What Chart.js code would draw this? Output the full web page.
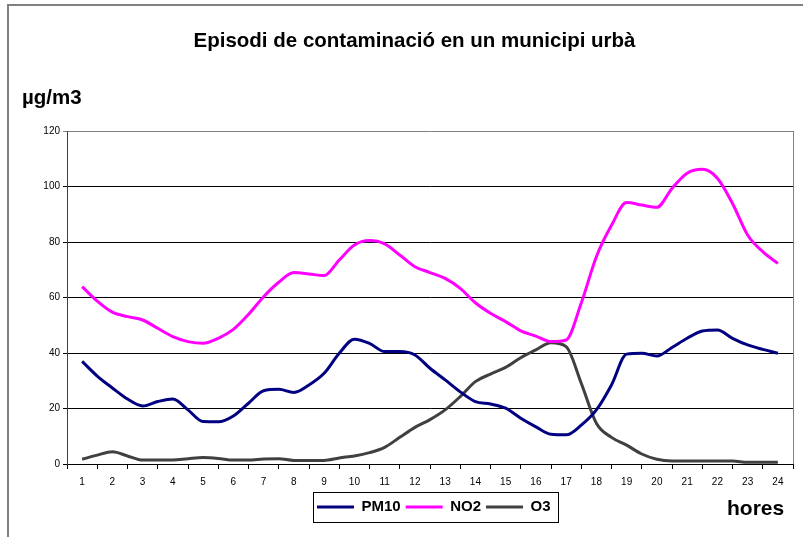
<!DOCTYPE html>
<html>
<head>
<meta charset="utf-8">
<script src="https://cdn.jsdelivr.net/npm/chart.js@4/dist/chart.umd.min.js"></script>
<style>
  html, body { margin: 0; padding: 0; background: #fff; }
  canvas { display: block; }
</style>
</head>
<body>
<canvas id="chart" width="803" height="537"></canvas>
<script>
// values, every half hour
const hores = [1, 1.5, 2, 2.5, 3, 3.5, 4, 4.5, 5, 5.5, 6, 6.5, 7, 7.5, 8, 8.5, 9, 9.5, 10, 10.5, 11, 11.5, 12, 12.5,
  13, 13.5, 14, 14.5, 15, 15.5, 16, 16.5, 17, 17.5, 18, 18.5, 19, 19.5, 20, 20.5, 21, 21.5, 22, 22.5, 23, 23.5, 24];
const pm10 = [37, 31.7, 27.4, 23.4, 20.9, 22.5, 23.4, 19.5, 15.3, 15.2, 17.3, 21.9, 26.4, 26.9, 25.8, 28.5, 32.7, 39.9, 45, 43.5, 40.5, 40.5, 39.3, 34.5,
  30.3, 26, 22.5, 21.6, 20.1, 16.5, 13.4, 10.7, 10.5, 14, 19.5, 28.5, 39.6, 39.9, 38.9, 42, 45.3, 47.9, 48.3, 45.3, 42.9, 41.3, 39.9];
const no2 = [63.9, 58.7, 54.7, 53.1, 51.9, 48.9, 45.9, 44.1, 43.5, 45.3, 48.5, 53.9, 60.3, 65.5, 69, 68.5, 67.9, 73.5, 78.9, 80.5, 79.3, 75.3, 71.1, 69,
  66.9, 63.3, 58.1, 54.3, 51.3, 48, 46.1, 44.1, 44.7, 58, 74.7, 86, 94.2, 93.3, 92.5, 99.3, 104.8, 106.2, 103, 93.9, 82.5, 76.5, 72.3];
const o3 = [1.7, 3.2, 4.4, 2.9, 1.4, 1.4, 1.4, 1.9, 2.3, 2, 1.4, 1.4, 1.8, 1.9, 1.3, 1.3, 1.3, 2.2, 2.9, 4.1, 6, 9.6, 13.2, 16,
  19.5, 24.3, 29.7, 32.4, 34.8, 38.3, 41.1, 43.7, 42.3, 29.1, 14.7, 9.6, 6.8, 3.6, 1.7, 1.1, 1.1, 1.1, 1.1, 1.1, 0.6, 0.6, 0.6];
const horesLabels = ['1','2','3','4','5','6','7','8','9','10','11','12','13','14','15','16','17','18','19','20','21','22','23','24'];
const yTicks = [0, 20, 40, 60, 80, 100, 120];

const FONT = '"Liberation Sans", Arial, sans-serif';

function pts(vals){
  return vals.map((v, i) => ({ x: hores[i], y: v }));
}

function serie(label, vals, color){
  return {
    label: label, data: pts(vals), borderColor: color, backgroundColor: color,
    borderWidth: 3, pointRadius: 0, cubicInterpolationMode: 'monotone', xAxisID: 'x'
  };
}

// frame, axis captions, legend box
const extras = {
  id: 'extras',
  beforeDraw(chart){
    const c = chart.ctx;
    c.save();
    c.fillStyle = '#fff';
    c.fillRect(0, 0, chart.width, chart.height);
    c.strokeStyle = '#808080';
    c.lineWidth = 2;
    c.strokeRect(8, 5, chart.width + 10, chart.height + 10);
    c.restore();
  },
  afterLayout(chart){
    // legend sits under the plot, starting at x=317, centred on y=507
    const lg = chart.legend;
    const pad = lg.options.labels.padding;
    lg.left = 317 - pad;
    lg.right = 803;
    lg.width = lg.right - lg.left;
    lg.top = 507 - pad - 7.5;
    lg.bottom = lg.top + lg.height;
  },
  beforeDatasetsDraw(chart){
    const a = chart.chartArea, c = chart.ctx;
    c.save();
    c.strokeStyle = '#808080';
    c.lineWidth = 1;
    c.beginPath();
    c.moveTo(a.right + 0.5, a.top);
    c.lineTo(a.right + 0.5, a.bottom);
    c.stroke();
    c.restore();
  },
  afterDraw(chart){
    const c = chart.ctx;
    c.save();
    c.fillStyle = '#000';
    c.textBaseline = 'alphabetic';
    c.textAlign = 'left';
    c.font = 'bold 20.5px ' + FONT;
    c.fillText('µg/m3', 22, 104);
    c.font = 'bold 21px ' + FONT;
    c.fillText('hores', 727, 515);

    const hb = chart.legend.legendHitBoxes;
    if(hb && hb.length){
      const l = Math.min(...hb.map(h => h.left));
      const r = Math.max(...hb.map(h => h.left + h.width));
      const cy = hb[0].top + hb[0].height / 2;
      c.strokeStyle = '#000';
      c.lineWidth = 1;
      c.strokeRect(Math.round(l - 4) + 0.5, Math.round(cy - 15) + 0.5, Math.round(r - l + 11), 30);
    }
    c.restore();
  }
};

new Chart(document.getElementById('chart'), {
  type: 'line',
  data: {
    datasets: [
      serie('PM10', pm10, '#000080'),
      serie('NO2', no2, '#ff00ff'),
      serie('O3', o3, '#404040')
    ]
  },
  options: {
    responsive: false,
    animation: false,
    layout: { padding: { left: 36, right: 10, top: 0, bottom: 19 } },
    plugins: {
      title: {
        display: true,
        text: 'Episodi de contaminació en un municipi urbà',
        color: '#000',
        font: { family: FONT, size: 20.5, weight: 'bold' },
        padding: { top: 28.7, bottom: 77.7 }
      },
      legend: {
        position: 'bottom',
        align: 'start',
        labels: {
          usePointStyle: true, pointStyle: 'line', pointStyleWidth: 37,
          color: '#000', padding: 5,
          font: { family: FONT, size: 15, weight: 'bold' }
        }
      },
      tooltip: { enabled: false }
    },
    scales: {
      x: { type: 'linear', min: 0.5, max: 24.5, display: false },
      xc: {
        type: 'category', labels: horesLabels, position: 'bottom',
        offset: true,
        grid: { offset: true, drawOnChartArea: false, tickLength: 5, color: '#000' },
        border: { color: '#000' },
        ticks: { color: '#000', font: { family: FONT, size: 10 }, maxRotation: 0, autoSkip: false, padding: 7 },
        afterFit: s => { s.height = 24; }
      },
      y: {
        min: 0, max: 120,
        afterBuildTicks: s => { s.ticks = yTicks.map(v => ({ value: v })); },
        ticks: { color: '#000', font: { family: FONT, size: 10 }, padding: 3 },
        grid: { color: ctx => (ctx.tick && ctx.tick.value === 120) ? '#808080' : '#000', tickLength: 4 },
        border: { color: '#404040', width: 1 },
        afterFit: s => { s.width = 31; }
      }
    }
  },
  plugins: [extras]
});
</script>
</body>
</html>
